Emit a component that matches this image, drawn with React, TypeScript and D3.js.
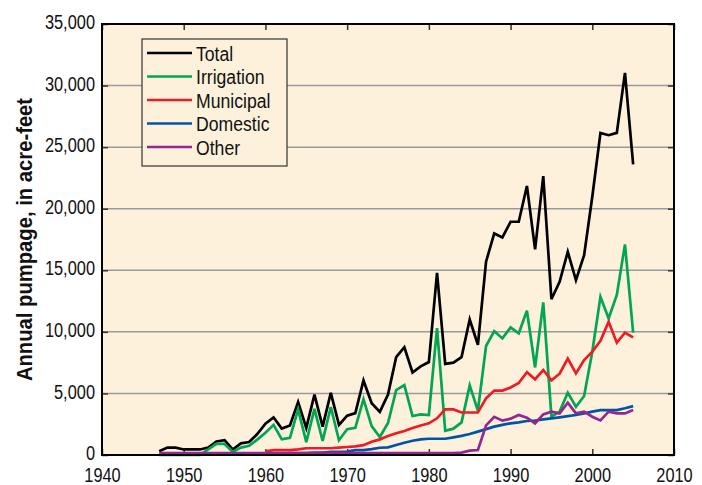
import React, { useRef, useEffect } from 'react';
import * as d3 from 'd3';

// years 1947-2005
const years = [
  1947, 1948, 1949, 1950, 1951, 1952, 1953, 1954, 1955, 1956,
  1957, 1958, 1959, 1960, 1961, 1962, 1963, 1964, 1965, 1966,
  1967, 1968, 1969, 1970, 1971, 1972, 1973, 1974, 1975, 1976,
  1977, 1978, 1979, 1980, 1981, 1982, 1983, 1984, 1985, 1986,
  1987, 1988, 1989, 1990, 1991, 1992, 1993, 1994, 1995, 1996,
  1997, 1998, 1999, 2000, 2001, 2002, 2003, 2004, 2005,
];

const total = [
  300, 600, 600, 450, 450, 450, 600, 1100, 1200, 450,
  950, 1050, 1700, 2550, 3050, 2150, 2400, 4300, 2200, 4900,
  2300, 5050, 2450, 3200, 3400, 6050, 4200, 3500, 4900, 7950,
  8750, 6700, 7200, 7550, 14800, 7400, 7500, 7950, 11000, 8950,
  15700, 17990, 17670, 18940, 18940, 21850, 16700, 22650, 12650, 14070,
  16500, 14200, 16230, 20970, 26160, 25970, 26160, 31030, 23600,
];

const irrigation = [
  0, 0, 0, 0, 0, 0, 450, 900, 900, 250,
  600, 750, 1250, 1800, 2450, 1270, 1400, 3700, 1050, 3750,
  1150, 3900, 1200, 2100, 2200, 4530, 2350, 1460, 2600, 5270,
  5680, 3170, 3300, 3250, 10300, 1970, 2140, 2650, 5650, 3600,
  8850, 10060, 9470, 10360, 9880, 11710, 7110, 12390, 3110, 3520,
  5060, 3920, 4790, 8390, 12850, 11090, 12990, 17100, 9930,
];

const municipal = [
  null, null, null, null, null, null, null, null, null, null,
  null, null, null, 300, 400, 400, 400, 450, 550, 550,
  550, 550, 600, 650, 700, 800, 1080, 1270, 1540, 1760,
  1950, 2190, 2400, 2570, 2980, 3700, 3700, 3450, 3450, 3450,
  4600, 5230, 5230, 5480, 5850, 6720, 6150, 6900, 6060, 6600,
  7830, 6630, 7710, 8390, 9280, 10820, 9120, 9930, 9550,
];

const domestic = [
  null, null, null, null, null, null, null, null, null, null,
  null, null, null, 100, 100, 100, 150, 150, 150, 200,
  200, 250, 250, 270, 400, 400, 480, 590, 620, 810,
  1000, 1160, 1270, 1320, 1320, 1320, 1430, 1550, 1700, 1900,
  2100, 2300, 2450, 2570, 2650, 2760, 2800, 2890, 2980, 3060,
  3150, 3250, 3380, 3520, 3650, 3650, 3650, 3800, 3970,
];

const other = [
  150, 150, 150, 150, 150, 150, 150, 150, 150, 150,
  150, 150, 150, 150, 150, 150, 150, 150, 150, 150,
  150, 150, 150, 150, 150, 150, 150, 150, 150, 150,
  150, 150, 150, 150, 150, 150, 150, 200, 350, 400,
  2400, 3100, 2790, 2950, 3250, 3030, 2570, 3300, 3520, 3380,
  4250, 3380, 3520, 3110, 2810, 3520, 3380, 3380, 3650,
];

const seriesNames = ['Total', 'Irrigation', 'Municipal', 'Domestic', 'Other'];
const seriesColors = ['#000000', '#00a651', '#ed1c24', '#0054a6', '#92278f'];
const seriesValues = [total, irrigation, municipal, domestic, other];

const xTicks = [1940, 1950, 1960, 1970, 1980, 1990, 2000, 2010];
const yTicks = [0, 5000, 10000, 15000, 20000, 25000, 30000, 35000];

const W = 702;
const H = 485;
// no condensed font installed, so Liberation Sans gets squeezed horizontally
const FONT = '"Liberation Sans", Arial, sans-serif';
const TICK_SQUEEZE = 0.78;

const PumpageChart = () => {
  const svgRef = useRef(null);

  useEffect(() => {
    const margin = { top: 24, right: 28, bottom: 30, left: 102 };
    const width = W - margin.left - margin.right;
    const height = H - margin.top - margin.bottom;

    const svg = d3.select(svgRef.current);
    svg.selectAll('*').remove();

    const g = svg.append('g')
      .attr('transform', `translate(${margin.left},${margin.top})`);

    const x = d3.scaleLinear().domain([1940, 2010]).range([0, width]);
    const y = d3.scaleLinear().domain([0, 35000]).range([height, 0]);

    g.append('rect')
      .attr('width', width)
      .attr('height', height)
      .attr('fill', '#fdf1dc');

    // horizontal gridlines
    g.selectAll('.grid')
      .data(yTicks.slice(1, -1))
      .join('line')
      .attr('class', 'grid')
      .attr('x1', 0)
      .attr('x2', width)
      .attr('y1', d => y(d))
      .attr('y2', d => y(d))
      .attr('stroke', '#9a9a9a')
      .attr('stroke-width', 1.5);

    const styleAxis = (sel) => {
      sel.select('.domain').remove();
      sel.selectAll('.tick line').attr('stroke', '#333').attr('stroke-width', 1.5);
      sel.selectAll('.tick text')
        .attr('fill', '#111')
        .attr('transform', `scale(${TICK_SQUEEZE},1)`)
        .style('font-family', FONT)
        .style('font-size', '21px');
    };

    const yAxis = g.append('g')
      .call(d3.axisLeft(y).tickValues(yTicks).tickSizeInner(-6).tickSizeOuter(0)
        .tickFormat(d3.format(',')))
      .call(styleAxis);
    yAxis.selectAll('.tick text')
      .attr('x', -7 / TICK_SQUEEZE)
      .attr('dy', '0.22em');

    g.append('g')
      .attr('transform', `translate(${width},0)`)
      .call(d3.axisRight(y).tickValues(yTicks).tickSizeInner(-6).tickSizeOuter(0).tickFormat(() => ''))
      .call(styleAxis);

    g.append('g')
      .attr('transform', `translate(0,${height})`)
      .call(d3.axisBottom(x).tickValues(xTicks).tickSizeInner(-6).tickSizeOuter(0)
        .tickPadding(12).tickFormat(d3.format('d')))
      .call(styleAxis);

    g.append('g')
      .call(d3.axisTop(x).tickValues(xTicks).tickSizeInner(-6).tickSizeOuter(0).tickFormat(() => ''))
      .call(styleAxis);

    // series lines
    const line = d3.line()
      .defined(d => d[1] !== null)
      .x(d => x(d[0]))
      .y(d => y(d[1]));

    seriesValues.forEach((vals, i) => {
      g.append('path')
        .datum(years.map((yr, j) => [yr, vals[j]]))
        .attr('fill', 'none')
        .attr('stroke', seriesColors[i])
        .attr('stroke-width', 2.7)
        .attr('stroke-linejoin', 'miter')
        .attr('d', line);
    });

    // frame
    g.append('rect')
      .attr('width', width)
      .attr('height', height)
      .attr('fill', 'none')
      .attr('stroke', '#000')
      .attr('stroke-width', 2);

    // legend
    const legend = g.append('g').attr('transform', 'translate(40,15)');
    legend.append('rect')
      .attr('width', 145)
      .attr('height', 127)
      .attr('fill', '#fdf1dc')
      .attr('stroke', '#333')
      .attr('stroke-width', 1.2);

    seriesNames.forEach((name, i) => {
      const row = legend.append('g').attr('transform', `translate(0,${14 + i * 23.5})`);
      row.append('line')
        .attr('x1', 5)
        .attr('x2', 50)
        .attr('stroke', seriesColors[i])
        .attr('stroke-width', 2.7);
      row.append('text')
        .attr('transform', 'translate(54,7.5) scale(0.84,1)')
        .attr('fill', '#111')
        .style('font-family', FONT)
        .style('font-size', '21px')
        .text(name);
    });

    // y axis title
    svg.append('text')
      .attr('transform', `translate(24,${margin.top + height / 2}) rotate(-90) scale(0.92,1)`)
      .attr('text-anchor', 'middle')
      .attr('dominant-baseline', 'central')
      .attr('fill', '#111')
      .style('font-family', FONT)
      .style('font-size', '22px')
      .style('font-weight', 'bold')
      .text('Annual pumpage, in acre-feet');
  }, []);

  return (
    <svg
      ref={svgRef}
      width={W}
      height={H}
      style={{ position: 'absolute', left: 0, top: 0, background: '#fff' }}
    />
  );
};

export default function App() {
  return <PumpageChart />;
}
